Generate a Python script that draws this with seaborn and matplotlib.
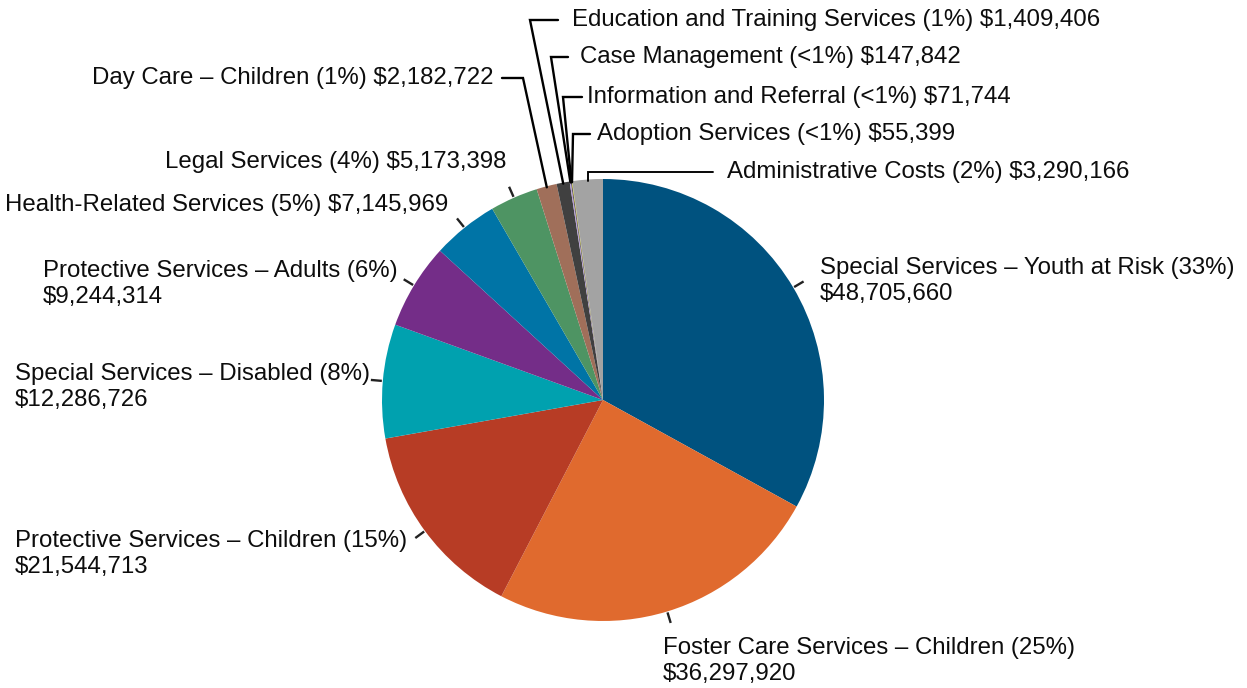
import numpy as np
import matplotlib
matplotlib.use("Agg")
import matplotlib.pyplot as plt
import seaborn as sns

# ---- data ----
categories = [
    "Special Services – Youth at Risk",
    "Foster Care Services – Children",
    "Protective Services – Children",
    "Special Services – Disabled",
    "Protective Services – Adults",
    "Health-Related Services",
    "Legal Services",
    "Day Care – Children",
    "Education and Training Services",
    "Case Management",
    "Information and Referral",
    "Adoption Services",
    "Administrative Costs",
]
amounts = [48705660, 36297920, 21544713, 12286726, 9244314, 7145969, 5173398,
           2182722, 1409406, 147842, 71744, 55399, 3290166]
pct_labels = ["33%", "25%", "15%", "8%", "6%", "5%", "4%",
              "1%", "1%", "<1%", "<1%", "<1%", "2%"]

colors = ["#00527F", "#E06A2E", "#B73C25", "#00A1AF", "#742D88", "#0074A6",
          "#4E9463", "#A06F5A", "#404040", "#B49BD2", "#151515", "#D8CF1C", "#A3A3A3"]

sns.set_theme(style="white")
plt.rcParams["font.family"] = ["Liberation Sans", "DejaVu Sans"]

W, H = 1247, 688
fig = plt.figure(figsize=(W / 100, H / 100), dpi=100)
ax = fig.add_axes([0, 0, 1, 1])

CX, CY, R = 603, 400, 221  # pixel coords (y down)
palette = sns.color_palette(colors)
wedges, _ = ax.pie(amounts, colors=palette, startangle=90, counterclock=False,
                   center=(CX, H - CY), radius=R, wedgeprops=dict(linewidth=0))
ax.set_xlim(0, W)
ax.set_ylim(0, H)
ax.set_aspect("equal")
ax.axis("off")

def Y(y):
    return H - y

def label_text(i, two_lines):
    money = "${:,}".format(amounts[i])
    head = f"{categories[i]} ({pct_labels[i]})"
    return f"{head}\n{money}" if two_lines else f"{head} {money}"

def mid_point(i, r):
    w = wedges[i]
    a = np.deg2rad((w.theta1 + w.theta2) / 2)
    return CX + r * np.cos(a), (H - CY) + r * np.sin(a)

FS = 17.3
LW = 1.7
TXT = "#0d0d0d"

# big slices: short radial ticks + text
ticks = {
    0: dict(xy=(820, 281), ha="left", two=True),
    1: dict(xy=(663, 661), ha="left", two=True),
    2: dict(xy=(15, 554), ha="left", two=True),
    3: dict(xy=(15, 387), ha="left", two=True),
    4: dict(xy=(43, 284), ha="left", two=True),
    5: dict(xy=(448, 205), ha="right", two=False),
    6: dict(xy=(506, 162), ha="right", two=False),
}
for i, d in ticks.items():
    x0, y0 = mid_point(i, R + 1)
    x1, y1 = mid_point(i, R + 12)
    ax.plot([x0, x1], [y0, y1], color="#222222", lw=LW, solid_capstyle="butt")
    ax.text(d["xy"][0], Y(d["xy"][1]), label_text(i, d["two"]), ha=d["ha"],
            va="center", fontsize=FS, color=TXT, linespacing=1.18)

# small slices: elbow leaders
elbows = {
    7: dict(bend=(523, 78), end=(502, 78), txt=(494, 78), ha="right"),
    8: dict(bend=(530, 20), end=(558, 20), txt=(572, 20), ha="left"),
    9: dict(bend=(551, 57), end=(568, 57), txt=(580, 57), ha="left"),
    10: dict(bend=(563, 97), end=(582, 97), txt=(587, 97), ha="left"),
    11: dict(bend=(573, 134), end=(590, 134), txt=(597, 134), ha="left"),
}
for i, d in elbows.items():
    x0, y0 = mid_point(i, R - 1)
    bx, by = d["bend"]
    ex, ey = d["end"]
    ax.plot([x0, bx, ex], [y0, Y(by), Y(ey)], color="black", lw=LW,
            solid_joinstyle="miter")
    ax.text(d["txt"][0], Y(d["txt"][1]), label_text(i, False), ha=d["ha"],
            va="center", fontsize=FS, color=TXT)

# administrative costs: vertical then horizontal
i = 12
x0, y0 = mid_point(i, R - 1)
ax.plot([x0, x0, 713], [y0, Y(172), Y(172)], color="black", lw=LW * 0.8,
        solid_joinstyle="miter")
ax.text(727, Y(172), label_text(i, False), ha="left", va="center",
        fontsize=FS, color=TXT)

fig.savefig("out.png", dpi=100)
